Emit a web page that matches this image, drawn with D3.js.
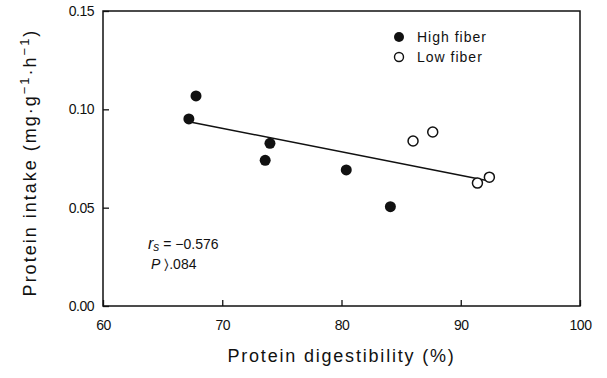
<!DOCTYPE html>
<html>
<head>
<meta charset="utf-8">
<script src="https://cdn.jsdelivr.net/npm/d3@7"></script>
<style>
  body { margin: 0; background: #fff; }
  text { font-family: "Liberation Sans", Arial, sans-serif; fill: #111; }
</style>
</head>
<body>
<script>
// Data
var highFiber = [
  [67.8, 0.1068], [67.2, 0.0951], [74.0, 0.0827],
  [73.6, 0.0741], [80.4, 0.0692], [84.1, 0.0505]
];
var lowFiber = [
  [86.0, 0.0839], [87.65, 0.0885], [91.4, 0.0625], [92.4, 0.0655]
];
// fitted line endpoints
var fitLine = [[67.2, 0.0937], [92.4, 0.0636]];
var xTicks = [60, 70, 80, 90, 100];
var yTicks = [0, 0.05, 0.10, 0.15];

var svgWidth = 607;
var svgHeight = 378;
var margin = { top: 11, right: 27, bottom: 72, left: 103 };
var chartWidth = svgWidth - margin.left - margin.right;
var chartHeight = svgHeight - margin.top - margin.bottom;

var svg = d3.select("body").append("svg")
  .attr("width", svgWidth)
  .attr("height", svgHeight);

var chartGroup = svg.append("g")
  .attr("transform", `translate(${margin.left}, ${margin.top})`);

var x = d3.scaleLinear().domain([60, 100]).range([0, chartWidth]);
var y = d3.scaleLinear().domain([0, 0.15]).range([chartHeight, 0]);

// frame
chartGroup.append("rect")
  .attr("width", chartWidth)
  .attr("height", chartHeight)
  .attr("fill", "none")
  .attr("stroke", "#111")
  .attr("stroke-width", 1.5);

// axes with inward ticks
var bottomAxis = d3.axisBottom(x).tickValues(xTicks).tickSize(-6).tickPadding(14).tickFormat(d3.format("d"));
var leftAxis = d3.axisLeft(y).tickValues(yTicks).tickSize(-6).tickPadding(9).tickFormat(d3.format(".2f"));

var gx = chartGroup.append("g")
  .attr("transform", `translate(0, ${chartHeight})`)
  .call(bottomAxis);
var gy = chartGroup.append("g").call(leftAxis);

[gx, gy].forEach(function(g) {
  g.select(".domain").remove();
  g.selectAll(".tick line").attr("stroke", "#111").attr("stroke-width", 1.3);
  g.selectAll(".tick text").style("font-size", "14px").style("letter-spacing", "-0.5px");
});

// fitted line
chartGroup.append("path")
  .datum(fitLine)
  .attr("fill", "none")
  .attr("stroke", "#111")
  .attr("stroke-width", 1.6)
  .attr("d", d3.line().x(d => x(d[0])).y(d => y(d[1])));

// points
chartGroup.selectAll(".high")
  .data(highFiber)
  .enter()
  .append("circle")
  .attr("cx", d => x(d[0]))
  .attr("cy", d => y(d[1]))
  .attr("r", 5.5)
  .style("fill", "#111");

chartGroup.selectAll(".low")
  .data(lowFiber)
  .enter()
  .append("circle")
  .attr("cx", d => x(d[0]))
  .attr("cy", d => y(d[1]))
  .attr("r", 5)
  .style("fill", "#fff")
  .style("stroke", "#111")
  .style("stroke-width", 1.5);

// legend
var legend = svg.append("g").attr("transform", "translate(399, 37)");
legend.append("circle").attr("r", 5).style("fill", "#111");
legend.append("text").attr("x", 18).attr("y", 5).style("font-size", "14px").style("letter-spacing", "1px").text("High fiber");
legend.append("circle").attr("cy", 20).attr("r", 4.5).style("fill", "#fff").style("stroke", "#111").style("stroke-width", 1.4);
legend.append("text").attr("x", 18).attr("y", 25).style("font-size", "14px").style("letter-spacing", "1px").text("Low fiber");

// statistics annotation
var stat = svg.append("text").attr("x", 148).attr("y", 249).style("font-size", "14px");
stat.append("tspan").style("font-style", "italic").style("font-size", "16px").text("r");
stat.append("tspan").style("font-style", "italic").style("font-size", "12px").attr("dy", 2).text("s");
stat.append("tspan").attr("dy", -2).text(" = \u22120.576");
var p = svg.append("text").attr("x", 151).attr("y", 269).style("font-size", "14px");
p.append("tspan").style("font-style", "italic").text("P");
p.append("tspan").text(" \u232A.084");

// axis titles
svg.append("text")
  .attr("x", margin.left + chartWidth / 2)
  .attr("y", 362)
  .attr("text-anchor", "middle")
  .style("font-size", "18px")
  .style("letter-spacing", "1.8px")
  .text("Protein digestibility (%)");

var yt = svg.append("text")
  .attr("transform", `translate(36, ${margin.top + chartHeight / 2 + 4}) rotate(-90)`)
  .attr("text-anchor", "middle")
  .style("font-size", "18px")
  .style("letter-spacing", "2px");
yt.append("tspan").text("Protein intake (mg\u00B7g");
yt.append("tspan").attr("dy", -7).style("font-size", "13px").text("\u22121");
yt.append("tspan").attr("dy", 7).text("\u00B7h");
yt.append("tspan").attr("dy", -7).style("font-size", "13px").text("\u22121");
yt.append("tspan").attr("dy", 7).text(")");
</script>
</body>
</html>
